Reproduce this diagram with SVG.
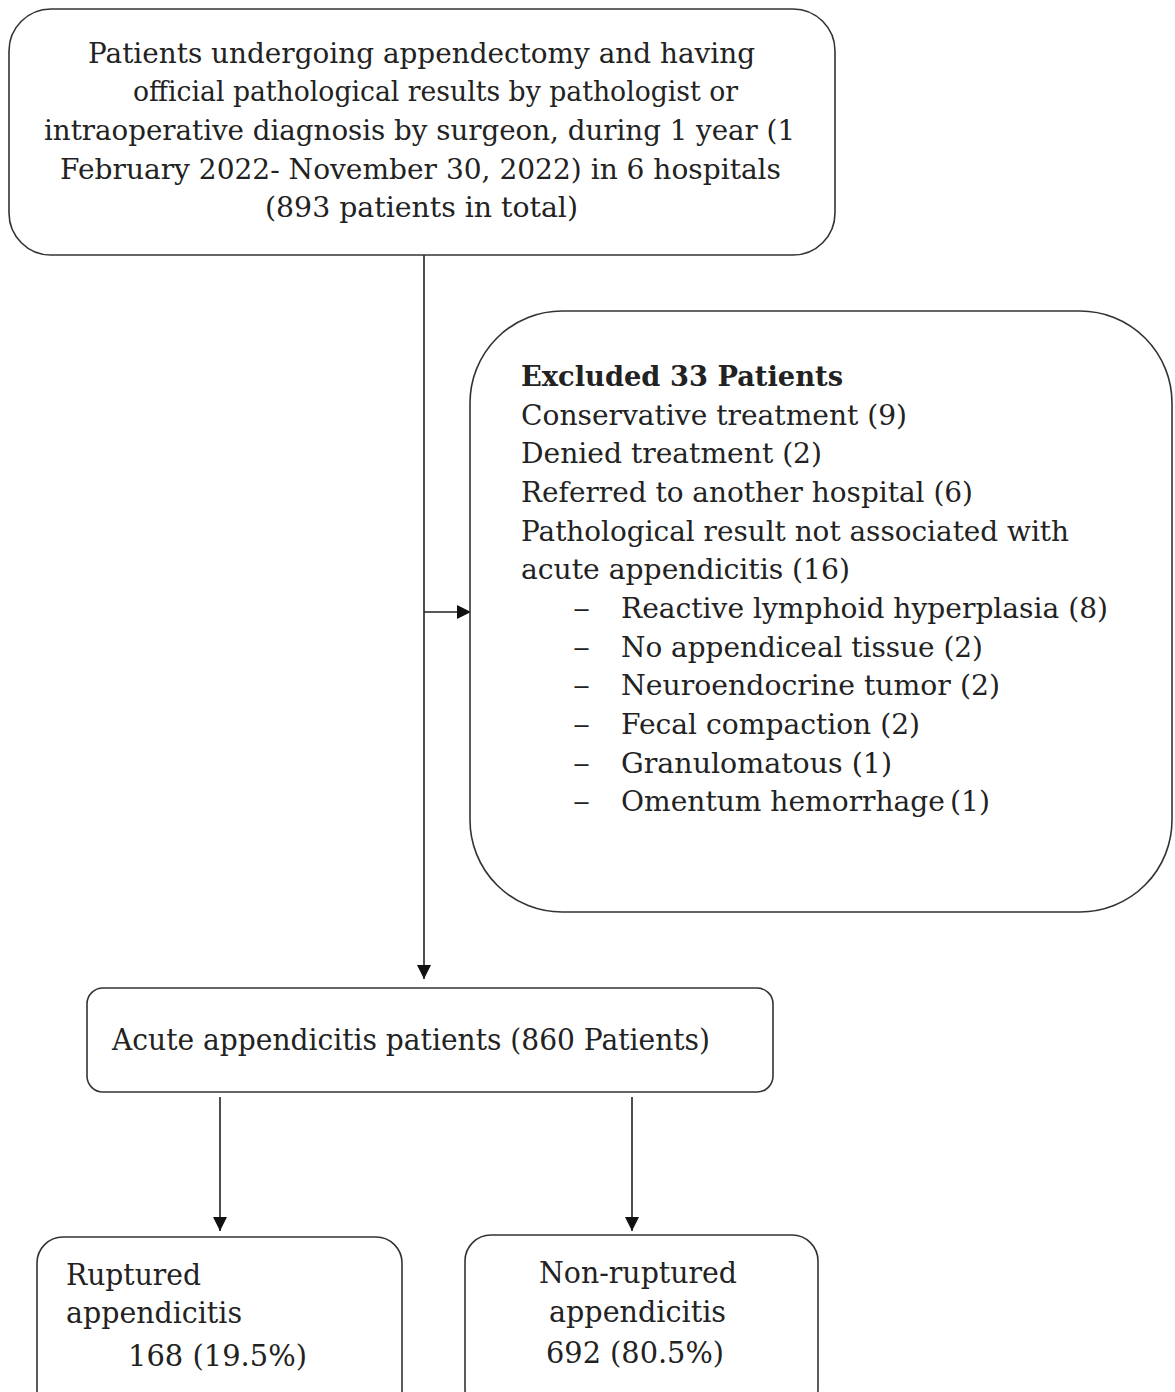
<svg xmlns="http://www.w3.org/2000/svg" width="1175" height="1392" viewBox="0 0 1175 1392">
<style>
.box{fill:#fff;stroke:#333;stroke-width:1.6}
.t{font-family:"DejaVu Serif","Liberation Serif",serif;font-size:27.5px;fill:#222}
.b{font-weight:bold}
.c{font-size:30px}
.ln{stroke:#222;stroke-width:1.6;fill:none}
</style>
<defs>
<marker id="ah" viewBox="0 0 10 10" refX="10" refY="5" markerWidth="14" markerHeight="14" markerUnits="userSpaceOnUse" orient="auto">
<path d="M0,0 L10,5 L0,10 z" fill="#111"/>
</marker>
</defs>
<rect width="1175" height="1392" fill="#fff"/>
<g id="connectors">
<line class="ln" x1="424" y1="255" x2="424" y2="979" marker-end="url(#ah)"/>
<line class="ln" x1="424" y1="612" x2="471" y2="612" marker-end="url(#ah)"/>
<line class="ln" x1="220" y1="1097" x2="220" y2="1231" marker-end="url(#ah)"/>
<line class="ln" x1="632" y1="1097" x2="632" y2="1231" marker-end="url(#ah)"/>
</g>
<g id="node-total">
<rect class="box" x="9" y="9" width="826" height="246" rx="42"/>
<text class="t" x="88" y="63" textLength="667" lengthAdjust="spacingAndGlyphs">Patients undergoing appendectomy and having</text>
<text class="t" x="133" y="101" textLength="605" lengthAdjust="spacingAndGlyphs">official pathological results by pathologist or</text>
<text class="t" x="44" y="140" textLength="751" lengthAdjust="spacingAndGlyphs">intraoperative diagnosis by surgeon, during 1 year (1</text>
<text class="t" x="60" y="179" textLength="721" lengthAdjust="spacingAndGlyphs">February 2022- November 30, 2022) in 6 hospitals</text>
<text class="t" x="265" y="217" textLength="313" lengthAdjust="spacingAndGlyphs">(893 patients in total)</text>
</g>
<g id="node-excluded">
<rect class="box" x="470" y="311" width="702" height="601" rx="92"/>
<text class="t b" x="521" y="386" textLength="322" lengthAdjust="spacingAndGlyphs">Excluded 33 Patients</text>
<text class="t" x="521" y="425" textLength="386" lengthAdjust="spacingAndGlyphs">Conservative treatment (9)</text>
<text class="t" x="521" y="463" textLength="301" lengthAdjust="spacingAndGlyphs">Denied treatment (2)</text>
<text class="t" x="521" y="502" textLength="452" lengthAdjust="spacingAndGlyphs">Referred to another hospital (6)</text>
<text class="t" x="521" y="541" textLength="548" lengthAdjust="spacingAndGlyphs">Pathological result not associated with</text>
<text class="t" x="521" y="579" textLength="329" lengthAdjust="spacingAndGlyphs">acute appendicitis (16)</text>
<text class="t" x="573" y="618" textLength="17" lengthAdjust="spacingAndGlyphs">–</text>
<text class="t" x="621" y="618" textLength="487" lengthAdjust="spacingAndGlyphs">Reactive lymphoid hyperplasia (8)</text>
<text class="t" x="573" y="657" textLength="17" lengthAdjust="spacingAndGlyphs">–</text>
<text class="t" x="621" y="657" textLength="362" lengthAdjust="spacingAndGlyphs">No appendiceal tissue (2)</text>
<text class="t" x="573" y="695" textLength="17" lengthAdjust="spacingAndGlyphs">–</text>
<text class="t" x="621" y="695" textLength="379" lengthAdjust="spacingAndGlyphs">Neuroendocrine tumor (2)</text>
<text class="t" x="573" y="734" textLength="17" lengthAdjust="spacingAndGlyphs">–</text>
<text class="t" x="621" y="734" textLength="299" lengthAdjust="spacingAndGlyphs">Fecal compaction (2)</text>
<text class="t" x="573" y="773" textLength="17" lengthAdjust="spacingAndGlyphs">–</text>
<text class="t" x="621" y="773" textLength="271" lengthAdjust="spacingAndGlyphs">Granulomatous (1)</text>
<text class="t" x="573" y="811" textLength="17" lengthAdjust="spacingAndGlyphs">–</text>
<text class="t" x="621" y="811" textLength="324" lengthAdjust="spacingAndGlyphs">Omentum hemorrhage</text>
<text class="t" x="950" y="811" font-size="23" textLength="40" lengthAdjust="spacingAndGlyphs">(1)</text>
</g>
<g id="node-acute">
<rect class="box" x="87" y="988" width="686" height="104" rx="16"/>
<text class="t c" x="112" y="1050" textLength="598" lengthAdjust="spacingAndGlyphs">Acute appendicitis patients (860 Patients)</text>
</g>
<g id="node-ruptured">
<rect class="box" x="37" y="1237" width="365" height="180" rx="26"/>
<text class="t c" x="66" y="1285" textLength="135" lengthAdjust="spacingAndGlyphs">Ruptured</text>
<text class="t c" x="66" y="1323" textLength="176" lengthAdjust="spacingAndGlyphs">appendicitis</text>
<text class="t c" x="128" y="1366" textLength="179" lengthAdjust="spacingAndGlyphs">168 (19.5%)</text>
</g>
<g id="node-nonruptured">
<rect class="box" x="465" y="1235" width="353" height="180" rx="26"/>
<text class="t c" x="539" y="1283" textLength="198" lengthAdjust="spacingAndGlyphs">Non-ruptured</text>
<text class="t c" x="549" y="1322" textLength="177" lengthAdjust="spacingAndGlyphs">appendicitis</text>
<text class="t c" x="546" y="1363" textLength="178" lengthAdjust="spacingAndGlyphs">692 (80.5%)</text>
</g>
</svg>
